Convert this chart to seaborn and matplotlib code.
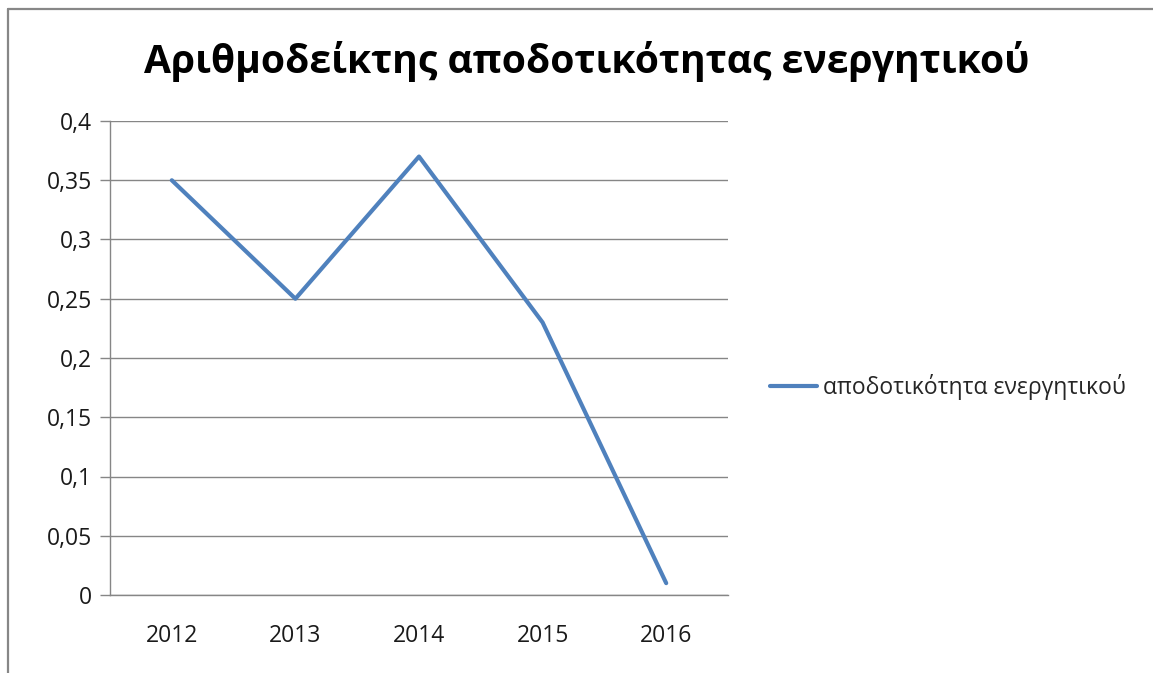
import matplotlib
matplotlib.use("Agg")
import matplotlib.pyplot as plt
import seaborn as sns
import pandas as pd
from matplotlib.ticker import FuncFormatter, MultipleLocator, FixedLocator
from matplotlib.lines import Line2D

years = ["2012", "2013", "2014", "2015", "2016"]
values = [0.35, 0.25, 0.37, 0.23, 0.01]
series_name = "αποδοτικότητα ενεργητικού"
title = "Αριθμοδείκτης αποδοτικότητας ενεργητικού"

sns.set_theme(style="white")
plt.rcParams['font.family'] = ['Open Sans', 'DejaVu Sans']

W, H = 1153, 673
fig = plt.figure(figsize=(W / 100, H / 100), dpi=100)
ax = fig.add_axes([110 / W, 1 - 595 / H, (728 - 110) / W, (595 - 121) / H])

df = pd.DataFrame({"year": years, "value": values, "series": series_name})
sns.lineplot(data=df, x="year", y="value", hue="series", palette=["#4F81BD"],
             linewidth=3.0, sort=False, ax=ax)

gray = "#868686"
ax.set_xlim(-0.5, len(years) - 0.5)
ax.set_ylim(0, 0.4)
ax.yaxis.set_major_locator(MultipleLocator(0.05))
ax.yaxis.set_major_formatter(FuncFormatter(lambda v, p: ("%g" % round(v, 4)).replace(".", ",")))
ax.xaxis.set_major_locator(FixedLocator(range(len(years))))
ax.set_xticklabels(years)
ax.xaxis.set_minor_locator(FixedLocator([i - 0.5 for i in range(len(years) + 1)]))
ax.grid(axis="y", color=gray, linewidth=1.0)
ax.set_axisbelow(True)
for s in ["top", "right"]:
    ax.spines[s].set_visible(False)
for s in ["left", "bottom"]:
    ax.spines[s].set_color(gray)
    ax.spines[s].set_linewidth(1.0)
ax.tick_params(axis="x", which="major", length=0, pad=21, labelsize=16.5, labelcolor="#1a1a1a")
ax.tick_params(axis="x", which="minor", length=5, width=1, color=gray, direction="out")
ax.tick_params(axis="y", which="major", length=7, width=1, color=gray, direction="out",
               pad=6, labelsize=16.5, labelcolor="#1a1a1a", left=True)
ax.set_xlabel("")
ax.set_ylabel("")

ax.legend(loc="center left", bbox_to_anchor=(770 / W, 1 - 387 / H), bbox_transform=fig.transFigure,
          frameon=False, borderpad=0, borderaxespad=0, handlelength=2.05, handletextpad=0.25,
          prop={"size": 16.5})

fig.text(587 / W, 1 - 61 / H, title, ha="center", va="center", fontsize=28.2,
         fontweight="bold", color="black")

# outer chart frame
fig.add_artist(Line2D([8 / W, 8 / W], [0, 1 - 9 / H], transform=fig.transFigure, color="#878787", linewidth=1.6))
fig.add_artist(Line2D([8 / W, 1], [1 - 9 / H, 1 - 9 / H], transform=fig.transFigure, color="#878787", linewidth=1.6))

fig.savefig("out.png", dpi=100)
